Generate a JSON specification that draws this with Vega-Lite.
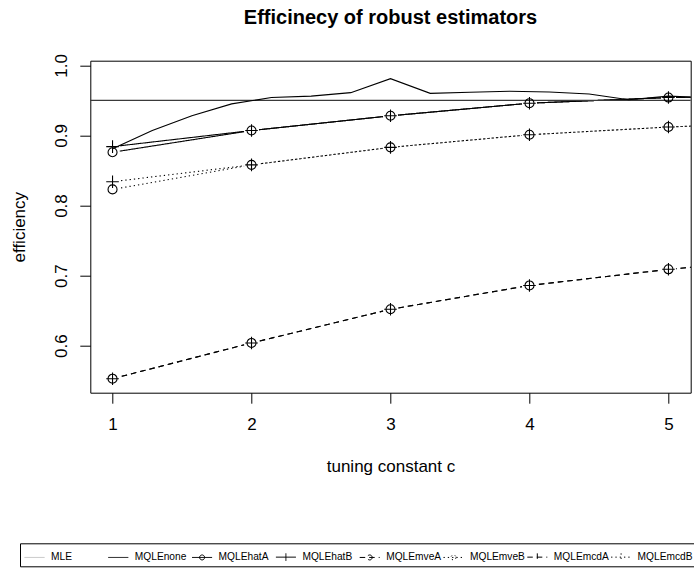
{
  "$schema": "https://vega.github.io/schema/vega-lite/v6.json",
  "width": 600.4,
  "height": 332,
  "autosize": {"type": "none"},
  "padding": {"left": 90.3, "top": 60.7, "right": 3.3, "bottom": 176.3},
  "background": "white",
  "title": {
    "text": "Efficinecy of robust estimators",
    "font": "Liberation Sans",
    "fontSize": 20,
    "fontWeight": "bold",
    "color": "black",
    "baseline": "alphabetic",
    "frame": "group",
    "anchor": "middle",
    "offset": 10
  },
  "config": {
    "view": {"stroke": "black", "strokeWidth": 1},
    "legend": {"labelLimit": 0}
  },
  "data": {
    "values": [
      {"c": 0, "eff": 0.95, "s": "MLE"},
      {"c": 6, "eff": 0.95, "s": "MLE"},
      {"c": 1.0, "eff": 0.881, "s": "MQLEnone"},
      {"c": 1.286, "eff": 0.907, "s": "MQLEnone"},
      {"c": 1.571, "eff": 0.928, "s": "MQLEnone"},
      {"c": 1.857, "eff": 0.945, "s": "MQLEnone"},
      {"c": 2.143, "eff": 0.954, "s": "MQLEnone"},
      {"c": 2.429, "eff": 0.956, "s": "MQLEnone"},
      {"c": 2.714, "eff": 0.961, "s": "MQLEnone"},
      {"c": 3.0, "eff": 0.981, "s": "MQLEnone"},
      {"c": 3.286, "eff": 0.96, "s": "MQLEnone"},
      {"c": 3.571, "eff": 0.9615, "s": "MQLEnone"},
      {"c": 3.857, "eff": 0.963, "s": "MQLEnone"},
      {"c": 4.143, "eff": 0.962, "s": "MQLEnone"},
      {"c": 4.429, "eff": 0.959, "s": "MQLEnone"},
      {"c": 4.714, "eff": 0.951, "s": "MQLEnone"},
      {"c": 5.0, "eff": 0.956, "s": "MQLEnone"},
      {"c": 5.286, "eff": 0.954, "s": "MQLEnone"},
      {"c": 1, "eff": 0.876, "s": "MQLEhatA"},
      {"c": 2, "eff": 0.907, "s": "MQLEhatA"},
      {"c": 3, "eff": 0.928, "s": "MQLEhatA"},
      {"c": 4, "eff": 0.946, "s": "MQLEhatA"},
      {"c": 5, "eff": 0.954, "s": "MQLEhatA"},
      {"c": 6, "eff": 0.957, "s": "MQLEhatA"},
      {"c": 1, "eff": 0.884, "s": "MQLEhatB"},
      {"c": 2, "eff": 0.907, "s": "MQLEhatB"},
      {"c": 3, "eff": 0.928, "s": "MQLEhatB"},
      {"c": 4, "eff": 0.946, "s": "MQLEhatB"},
      {"c": 5, "eff": 0.954, "s": "MQLEhatB"},
      {"c": 6, "eff": 0.957, "s": "MQLEhatB"},
      {"c": 1, "eff": 0.553, "s": "MQLEmveA"},
      {"c": 2, "eff": 0.604, "s": "MQLEmveA"},
      {"c": 3, "eff": 0.652, "s": "MQLEmveA"},
      {"c": 4, "eff": 0.686, "s": "MQLEmveA"},
      {"c": 5, "eff": 0.709, "s": "MQLEmveA"},
      {"c": 6, "eff": 0.727, "s": "MQLEmveA"},
      {"c": 1, "eff": 0.823, "s": "MQLEmveB"},
      {"c": 2, "eff": 0.858, "s": "MQLEmveB"},
      {"c": 3, "eff": 0.883, "s": "MQLEmveB"},
      {"c": 4, "eff": 0.901, "s": "MQLEmveB"},
      {"c": 5, "eff": 0.912, "s": "MQLEmveB"},
      {"c": 6, "eff": 0.92, "s": "MQLEmveB"},
      {"c": 1, "eff": 0.553, "s": "MQLEmcdA"},
      {"c": 2, "eff": 0.604, "s": "MQLEmcdA"},
      {"c": 3, "eff": 0.652, "s": "MQLEmcdA"},
      {"c": 4, "eff": 0.686, "s": "MQLEmcdA"},
      {"c": 5, "eff": 0.709, "s": "MQLEmcdA"},
      {"c": 6, "eff": 0.727, "s": "MQLEmcdA"},
      {"c": 1, "eff": 0.834, "s": "MQLEmcdB"},
      {"c": 2, "eff": 0.858, "s": "MQLEmcdB"},
      {"c": 3, "eff": 0.883, "s": "MQLEmcdB"},
      {"c": 4, "eff": 0.901, "s": "MQLEmcdB"},
      {"c": 5, "eff": 0.912, "s": "MQLEmcdB"},
      {"c": 6, "eff": 0.92, "s": "MQLEmcdB"}
    ]
  },
  "encoding": {
    "x": {
      "field": "c",
      "type": "quantitative",
      "title": "tuning constant c",
      "scale": {"domain": [0.84, 5.16], "nice": false, "zero": false},
      "axis": {
        "values": [1, 2, 3, 4, 5],
        "format": "d",
        "domain": false,
        "grid": false,
        "tickSize": 10.5,
        "tickColor": "black",
        "tickWidth": 1,
        "labelFont": "Liberation Sans",
        "labelFontSize": 17,
        "labelColor": "black",
        "labelPadding": 13.5,
        "labelBaseline": "top",
        "labelFlush": false,
        "labelOverlap": false,
        "titleFont": "Liberation Sans",
        "titleFontSize": 17,
        "titleFontWeight": "normal",
        "titleColor": "black",
        "titleBaseline": "alphabetic",
        "titleY": 78.3
      }
    },
    "y": {
      "field": "eff",
      "type": "quantitative",
      "title": "efficiency",
      "scale": {"domain": [0.533, 1.0066], "nice": false, "zero": false},
      "axis": {
        "values": [0.6, 0.7, 0.8, 0.9, 1.0],
        "format": ".1f",
        "domain": false,
        "grid": false,
        "tickSize": 10.5,
        "tickColor": "black",
        "tickWidth": 1,
        "labelFont": "Liberation Sans",
        "labelFontSize": 17,
        "labelColor": "black",
        "labelAngle": -90,
        "labelAlign": "center",
        "labelBaseline": "alphabetic",
        "labelPadding": 13,
        "labelFlush": false,
        "labelOverlap": false,
        "titleFont": "Liberation Sans",
        "titleFontSize": 17,
        "titleFontWeight": "normal",
        "titleColor": "black",
        "titleAngle": -90,
        "titleAlign": "center",
        "titleBaseline": "alphabetic",
        "titleX": -66,
        "titleY": 166
      }
    }
  },
  "layer": [
    {
      "transform": [{"filter": "datum.s != 'MLE' && datum.s != 'MQLEnone'"}],
      "mark": {"type": "line", "clip": true, "strokeWidth": 1.1},
      "encoding": {
        "color": {
          "field": "s",
          "type": "nominal",
          "scale": {
            "domain": ["MLE", "MQLEnone", "MQLEhatA", "MQLEhatB", "MQLEmveA", "MQLEmveB", "MQLEmcdA", "MQLEmcdB"],
            "range": ["#bbbbbb", "black", "black", "black", "black", "black", "black", "black"]
          },
          "legend": {
            "title": null,
            "orient": "none",
            "legendX": -70.3,
            "legendY": 482.6,
            "direction": "horizontal",
            "columns": 8,
            "gridAlign": "all",
            "padding": 3,
            "symbolOffset": 1,
            "symbolSize": 400,
            "symbolStrokeWidth": 1,
            "symbolOpacity": 1,
            "labelFont": "Liberation Sans",
            "labelFontSize": 10.2,
            "labelColor": "black",
            "labelOffset": 6,
            "labelLimit": 0,
            "columnPadding": -0.2,
            "strokeColor": "black"
          }
        },
        "strokeDash": {
          "field": "s",
          "type": "nominal",
          "scale": {
            "domain": ["MLE", "MQLEnone", "MQLEhatA", "MQLEhatB", "MQLEmveA", "MQLEmveB", "MQLEmcdA", "MQLEmcdB"],
            "range": [[1, 0], [1, 0], [1, 0], [1, 0], [5.5, 4], [1.3, 3], [5.5, 4], [1.3, 3]]
          }
        }
      }
    },
    {
      "transform": [{"filter": "datum.s != 'MLE' && datum.s != 'MQLEnone'"}],
      "mark": {"type": "point", "filled": true, "clip": true, "size": 225, "shape": "circle", "color": "white", "opacity": 1, "strokeWidth": 0}
    },
    {
      "transform": [{"filter": "datum.s == 'MLE'"}],
      "mark": {"type": "line", "clip": true, "strokeWidth": 1.1, "color": "#3a3a3a"}
    },
    {
      "transform": [{"filter": "datum.s == 'MQLEnone'"}],
      "mark": {"type": "line", "clip": true, "strokeWidth": 1.1, "color": "black"}
    },
    {
      "transform": [{"filter": "indexof(['MQLEhatA', 'MQLEmveA', 'MQLEmveB'], datum.s) >= 0"}],
      "mark": {"type": "point", "shape": "circle", "filled": false, "clip": true, "size": 81, "strokeWidth": 1.1, "color": "black", "opacity": 1}
    },
    {
      "transform": [{"filter": "indexof(['MQLEhatB', 'MQLEmcdA', 'MQLEmcdB'], datum.s) >= 0"}],
      "mark": {"type": "point", "shape": "M-1.4,0H1.4M0,-1.4V1.4", "filled": false, "clip": true, "size": 81, "strokeWidth": 1.1, "color": "black", "opacity": 1}
    },
    {
      "transform": [{"filter": "datum.c == 1"}],
      "mark": {"type": "point", "filled": false, "opacity": 0, "size": 400, "strokeWidth": 1},
      "encoding": {
        "color": {"field": "s", "type": "nominal"},
        "strokeDash": {"field": "s", "type": "nominal"},
        "shape": {
          "field": "s",
          "type": "nominal",
          "scale": {
            "domain": ["MLE", "MQLEnone", "MQLEhatA", "MQLEhatB", "MQLEmveA", "MQLEmveB", "MQLEmcdA", "MQLEmcdB"],
            "range": [
              "M-1,0H1",
              "M-1,0H1",
              "M-1,0H1M0.25,0A0.25,0.25,0,1,1,-0.25,0A0.25,0.25,0,1,1,0.25,0",
              "M-1,0H1M0,-0.38V0.38",
              "M-1,0H1M0.25,0A0.25,0.25,0,1,1,-0.25,0A0.25,0.25,0,1,1,0.25,0",
              "M-1,0H1M0.25,0A0.25,0.25,0,1,1,-0.25,0A0.25,0.25,0,1,1,0.25,0",
              "M-1,0H1M0,-0.38V0.38",
              "M-1,0H1M0,-0.38V0.38"
            ]
          },
          "legend": {
            "title": null,
            "orient": "none",
            "legendX": -70.3,
            "legendY": 482.6,
            "direction": "horizontal",
            "columns": 8,
            "gridAlign": "all",
            "padding": 3,
            "symbolOffset": 1,
            "symbolSize": 400,
            "symbolStrokeWidth": 1,
            "symbolOpacity": 1,
            "labelFont": "Liberation Sans",
            "labelFontSize": 10.2,
            "labelColor": "black",
            "labelOffset": 6,
            "labelLimit": 0,
            "columnPadding": -0.2,
            "strokeColor": "black"
          }
        }
      }
    }
  ]
}
